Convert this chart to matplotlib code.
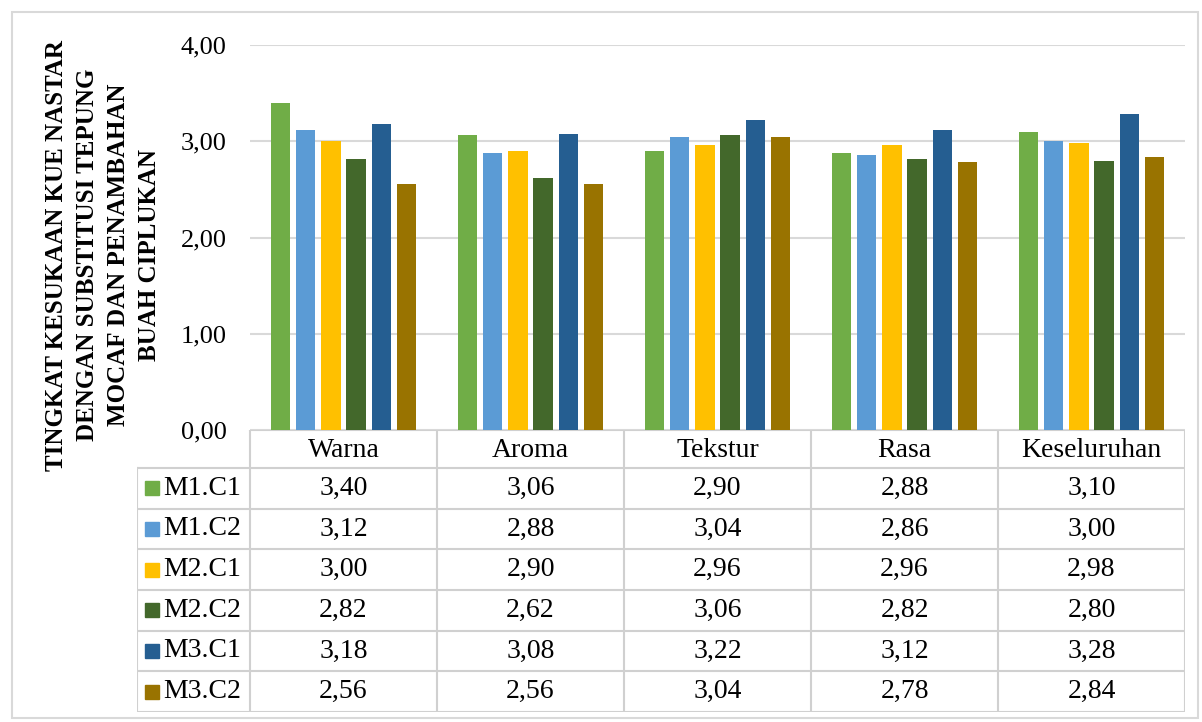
import matplotlib.pyplot as plt
import numpy as np
from matplotlib.patches import Rectangle

plt.rcParams['font.family'] = ['Liberation Serif', 'DejaVu Serif']

categories = ['Warna', 'Aroma', 'Tekstur', 'Rasa', 'Keseluruhan']
series = ['M1.C1', 'M1.C2', 'M2.C1', 'M2.C2', 'M3.C1', 'M3.C2']
m1c1 = [3.40, 3.06, 2.90, 2.88, 3.10]
m1c2 = [3.12, 2.88, 3.04, 2.86, 3.00]
m2c1 = [3.00, 2.90, 2.96, 2.96, 2.98]
m2c2 = [2.82, 2.62, 3.06, 2.82, 2.80]
m3c1 = [3.18, 3.08, 3.22, 3.12, 3.28]
m3c2 = [2.56, 2.56, 3.04, 2.78, 2.84]
values = [m1c1, m1c2, m2c1, m2c2, m3c1, m3c2]
colors = ['#70AD47', '#5B9BD5', '#FFC000', '#43682B', '#255E91', '#997300']
yticks = [0, 1, 2, 3, 4]

W, H = 1202, 722
fig = plt.figure(figsize=(W / 100, H / 100), dpi=100)

# outer chart border
fig.patches.append(Rectangle((12 / W, 4 / H), 1186 / W, 706 / H, transform=fig.transFigure,
                             fill=False, edgecolor='#d9d9d9', lw=1.5))

# bar area
ax = fig.add_axes([250 / W, (H - 430) / H, 935 / W, 385 / H])
x = np.arange(len(categories))
step, bw = 0.134, 0.102
for i, (name, vals) in enumerate(zip(series, values)):
    ax.bar(x + (i - 2.5) * step, vals, width=bw, color=colors[i], zorder=3)
ax.set_xlim(-0.5, len(categories) - 0.5)
ax.set_ylim(0, 4)
ax.set_yticks(yticks)
ax.yaxis.set_major_formatter(plt.FuncFormatter(lambda v, p: ('%.2f' % v).replace('.', ',')))
ax.tick_params(axis='y', length=0, labelsize=19, pad=17)
ax.set_xticks([])
ax.grid(axis='y', color='#d9d9d9', lw=1.5, zorder=0)
for s in ax.spines.values():
    s.set_visible(False)

fig.text(103 / W, 1 - 255 / H,
         'TINGKAT KESUKAAN KUE NASTAR\nDENGAN SUBSTITUSI TEPUNG\nMOCAF DAN PENAMBAHAN\nBUAH CIPLUKAN',
         rotation=90, ha='center', va='center', multialignment='center',
         fontsize=18, fontweight='bold', linespacing=1.45)

# data table
lw_col = 113 / 187
hdr = 38 / 40.7
nrow = len(series)
tx = fig.add_axes([137 / W, (H - 712) / H, (1185 - 137) / W, 282 / H])
tx.set_xlim(-0.5 - lw_col, len(categories) - 0.5)
tx.set_ylim(hdr + nrow, 0)
tx.axis('off')
lc = '#d0d0d0'
left = -0.5 - lw_col
right = len(categories) - 0.5
tx.plot([-0.5, right], [0, 0], color=lc, lw=1.5)
for r in range(nrow + 1):
    tx.plot([left, right], [hdr + r, hdr + r], color=lc, lw=1.5)
tx.plot([left, left], [hdr, hdr + nrow], color=lc, lw=1.5)
for c in range(len(categories) + 1):
    tx.plot([-0.5 + c, -0.5 + c], [0, hdr + nrow], color=lc, lw=1.5)
for c, cat in enumerate(categories):
    tx.text(c, hdr / 2 + 0.03, cat, ha='center', va='center', fontsize=20)
for r, (name, vals) in enumerate(zip(series, values)):
    yc = hdr + r + 0.5
    tx.add_patch(Rectangle((left + 0.045, yc - 0.17), 0.07, 0.34, color=colors[r]))
    tx.text(left + 0.14, yc, name, ha='left', va='center', fontsize=20)
    for c, v in enumerate(vals):
        tx.text(c, yc, ('%.2f' % v).replace('.', ','), ha='center', va='center', fontsize=20)

fig.savefig('out.png', dpi=100)
